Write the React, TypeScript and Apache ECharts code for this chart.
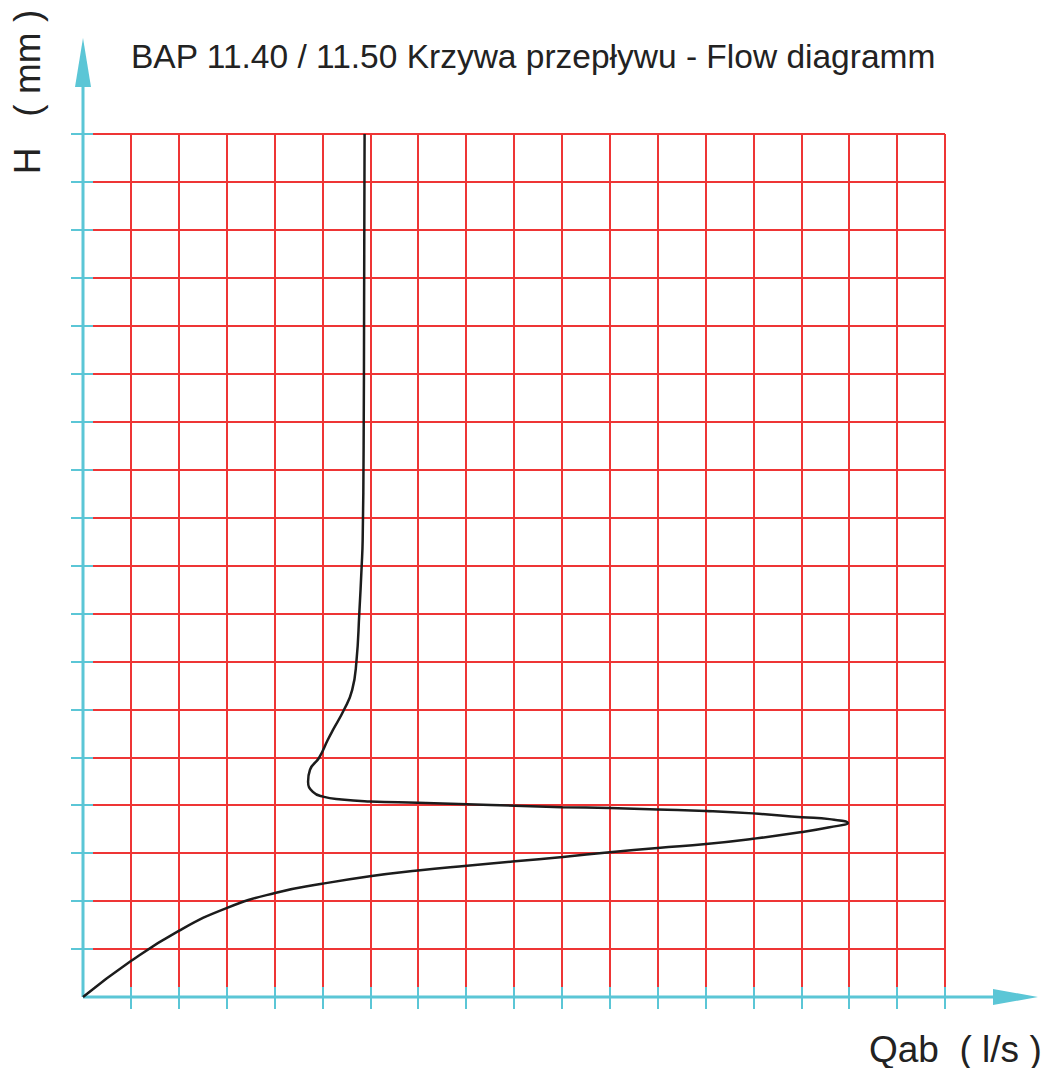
import React, { useEffect, useRef } from "react";
import * as echarts from "echarts";

const titleText = "BAP 11.40 / 11.50 Krzywa przepływu - Flow diagramm";
const xAxisName = "Qab  ( l/s )";
const yAxisName = "H   ( mm )";
const tickValues = [1, 2, 3, 4, 5, 6, 7, 8, 9, 10, 11, 12, 13, 14, 15, 16, 17, 18];
const flowQ = [
  0, 1.0, 2.0, 3.01, 4.01, 4.99, 5.99, 6.99, 8.02, 9.02, 10.02, 11.0, 12.0, 13.01, 13.99, 15.01,
  15.59, 15.97, 15.59, 15.01, 13.99, 13.01, 12.0, 11.0, 10.0, 9.02, 8.02, 6.99, 5.99, 5.4, 5.01, 4.8, 4.7,
  4.74, 4.93, 5.11, 5.22, 5.45, 5.62, 5.71, 5.77, 5.82, 5.84, 5.86, 5.87, 5.88,
];
const flowH = [
  0, 0.75, 1.38, 1.86, 2.17, 2.36, 2.52, 2.64, 2.74, 2.83, 2.92, 3.02, 3.11, 3.19, 3.3, 3.44,
  3.54, 3.63, 3.71, 3.75, 3.83, 3.88, 3.91, 3.94, 3.96, 3.99, 4.02, 4.05, 4.08, 4.12, 4.18, 4.28, 4.49,
  4.74, 4.99, 5.36, 5.57, 5.99, 6.4, 7.0, 8.01, 9.01, 9.53, 11.5, 14.5, 18.0,
];

const RED = "#ee3535";
const CYAN = "#5bc6d6";
const FONT = "'Liberation Sans', Arial, sans-serif";

export default function App() {
  const ref = useRef<HTMLDivElement>(null);
  useEffect(() => {
    if (!ref.current) return;
    const chart = echarts.init(ref.current, undefined, { renderer: "svg" });
    const mkAxis = (inside: boolean, idx: number, position: string) => ({
      type: "value",
      min: 0,
      max: 18,
      interval: 1,
      position,
      axisLine: { show: false },
      axisLabel: { show: false },
      axisTick: {
        show: true,
        inside,
        length: inside ? 10 : 12,
        customValues: tickValues,
        lineStyle: { color: CYAN, width: 2 },
      },
      splitLine: { show: idx === 0, lineStyle: { color: RED, width: 2 } },
      z: idx === 0 ? 1 : 3,
    });
    chart.setOption({
      animation: false,
      grid: { left: 83, top: 134, right: 101, bottom: 71, containLabel: false },
      xAxis: [mkAxis(false, 0, "bottom"), mkAxis(true, 1, "bottom")],
      yAxis: [mkAxis(false, 0, "left"), mkAxis(true, 1, "left")],
      series: [
        {
          type: "line",
          xAxisIndex: 0,
          yAxisIndex: 0,
          data: flowQ.map((q, i) => [q, flowH[i]]),
          showSymbol: false,
          smooth: 0.5,
          lineStyle: { color: "#1c1c1c", width: 2.5 },
          z: 5,
        },
      ],
      graphic: [
        { type: "line", z: 4, shape: { x1: 83, y1: 997, x2: 998, y2: 997 }, style: { stroke: CYAN, lineWidth: 3 } },
        { type: "line", z: 4, shape: { x1: 83, y1: 997, x2: 83, y2: 82 }, style: { stroke: CYAN, lineWidth: 3 } },
        {
          type: "polygon",
          z: 4,
          shape: { points: [[83, 38], [75, 87], [91, 87]] },
          style: { fill: CYAN },
        },
        {
          type: "polygon",
          z: 4,
          shape: { points: [[1038, 997], [993, 989], [993, 1005]] },
          style: { fill: CYAN },
        },
        {
          type: "text",
          x: 131,
          y: 56,
          style: { text: titleText, font: `33.5px ${FONT}`, fill: "#222", verticalAlign: "middle", align: "left" },
        },
        {
          type: "text",
          x: 869,
          y: 1049,
          style: { text: xAxisName, font: `37px ${FONT}`, fill: "#222", verticalAlign: "middle", align: "left" },
        },
        {
          type: "text",
          x: 27,
          y: 92,
          rotation: Math.PI / 2,
          style: { text: yAxisName, font: `37px ${FONT}`, fill: "#222", verticalAlign: "middle", align: "center" },
        },
      ],
    });
    return () => chart.dispose();
  }, []);
  return <div ref={ref} style={{ position: "absolute", left: 0, top: 0, width: 1046, height: 1068 }} />;
}
